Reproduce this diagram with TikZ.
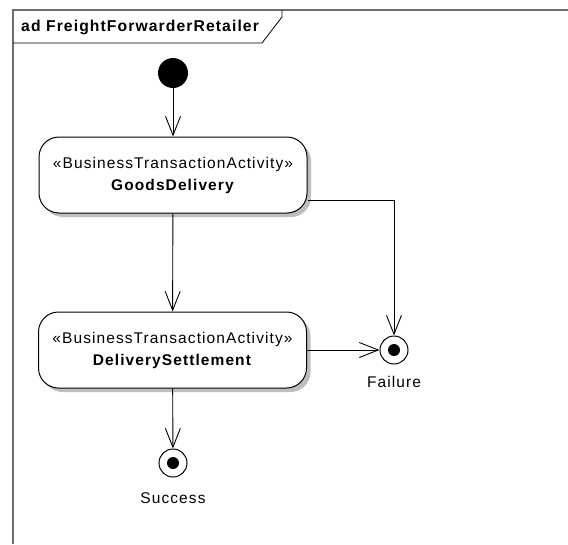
\documentclass[tikz,border=0pt]{standalone}
\usepackage{fontspec}
\setmainfont{Liberation Sans}[LetterSpace=7]
\usetikzlibrary{arrows.meta,shadows}
\definecolor{framegray}{RGB}{110,110,110}
\definecolor{shadowgray}{RGB}{190,190,190}
\begin{document}
\begin{tikzpicture}[x=1pt,y=-1pt,
  every node/.style={font=\fontsize{15.5}{22}\selectfont},
  arr/.style={draw=black,line width=0.9pt,-{Straight Barb[length=19pt,width=15pt,line width=0.9pt]}},
  actbox/.style={draw=black,line width=1pt,fill=white,rounded corners=20pt,
    minimum width=268pt,minimum height=76pt,align=center,inner sep=0pt,
    drop shadow={shadow xshift=4pt,shadow yshift=-4pt,fill=shadowgray,opacity=1}},
  initnode/.style={circle,fill=black,minimum size=30pt,inner sep=0pt},
  finalnode/.style={circle,draw=black,line width=1pt,fill=white,minimum size=28pt,inner sep=0pt,
    path picture={\fill[black] (path picture bounding box.center) circle[radius=6pt];}},
  lbl/.style={inner sep=0pt}
]
\useasboundingbox (0,0) rectangle (568,544);
\fill[white] (0,0) rectangle (568,544);
% frame
\draw[framegray,line width=1.5pt] (13,544) -- (13,10) -- (568,10);
\draw[black,line width=0.8pt] (13,43) -- (262,43) -- (282,17) -- (282,10);
\node[lbl,anchor=west,font=\fontsize{15.7}{16}\selectfont\bfseries] (title) at (21,27) {ad FreightForwarderRetailer};
% nodes
\node[initnode] (init) at (173,73) {};
\node[actbox] (gd) at (173,175) {«BusinessTransactionActivity»\\\textbf{GoodsDelivery}};
\node[actbox] (ds) at (172.5,350) {«BusinessTransactionActivity»\\\textbf{DeliverySettlement}};
\node[finalnode] (fail) at (394,350) {};
\node[finalnode] (succ) at (173,463) {};
\node[lbl] (faillbl) at (394,382) {Failure};
\node[lbl] (succlbl) at (173,498) {Success};
% edges
\draw[arr] (init) -- (gd);
\draw[arr] (gd) -- (ds);
\draw[arr] ([yshift=-25pt]gd.east) -| (fail);
\draw[arr] (ds) -- (fail);
\draw[arr] (ds) -- (succ);
\end{tikzpicture}
\end{document}
